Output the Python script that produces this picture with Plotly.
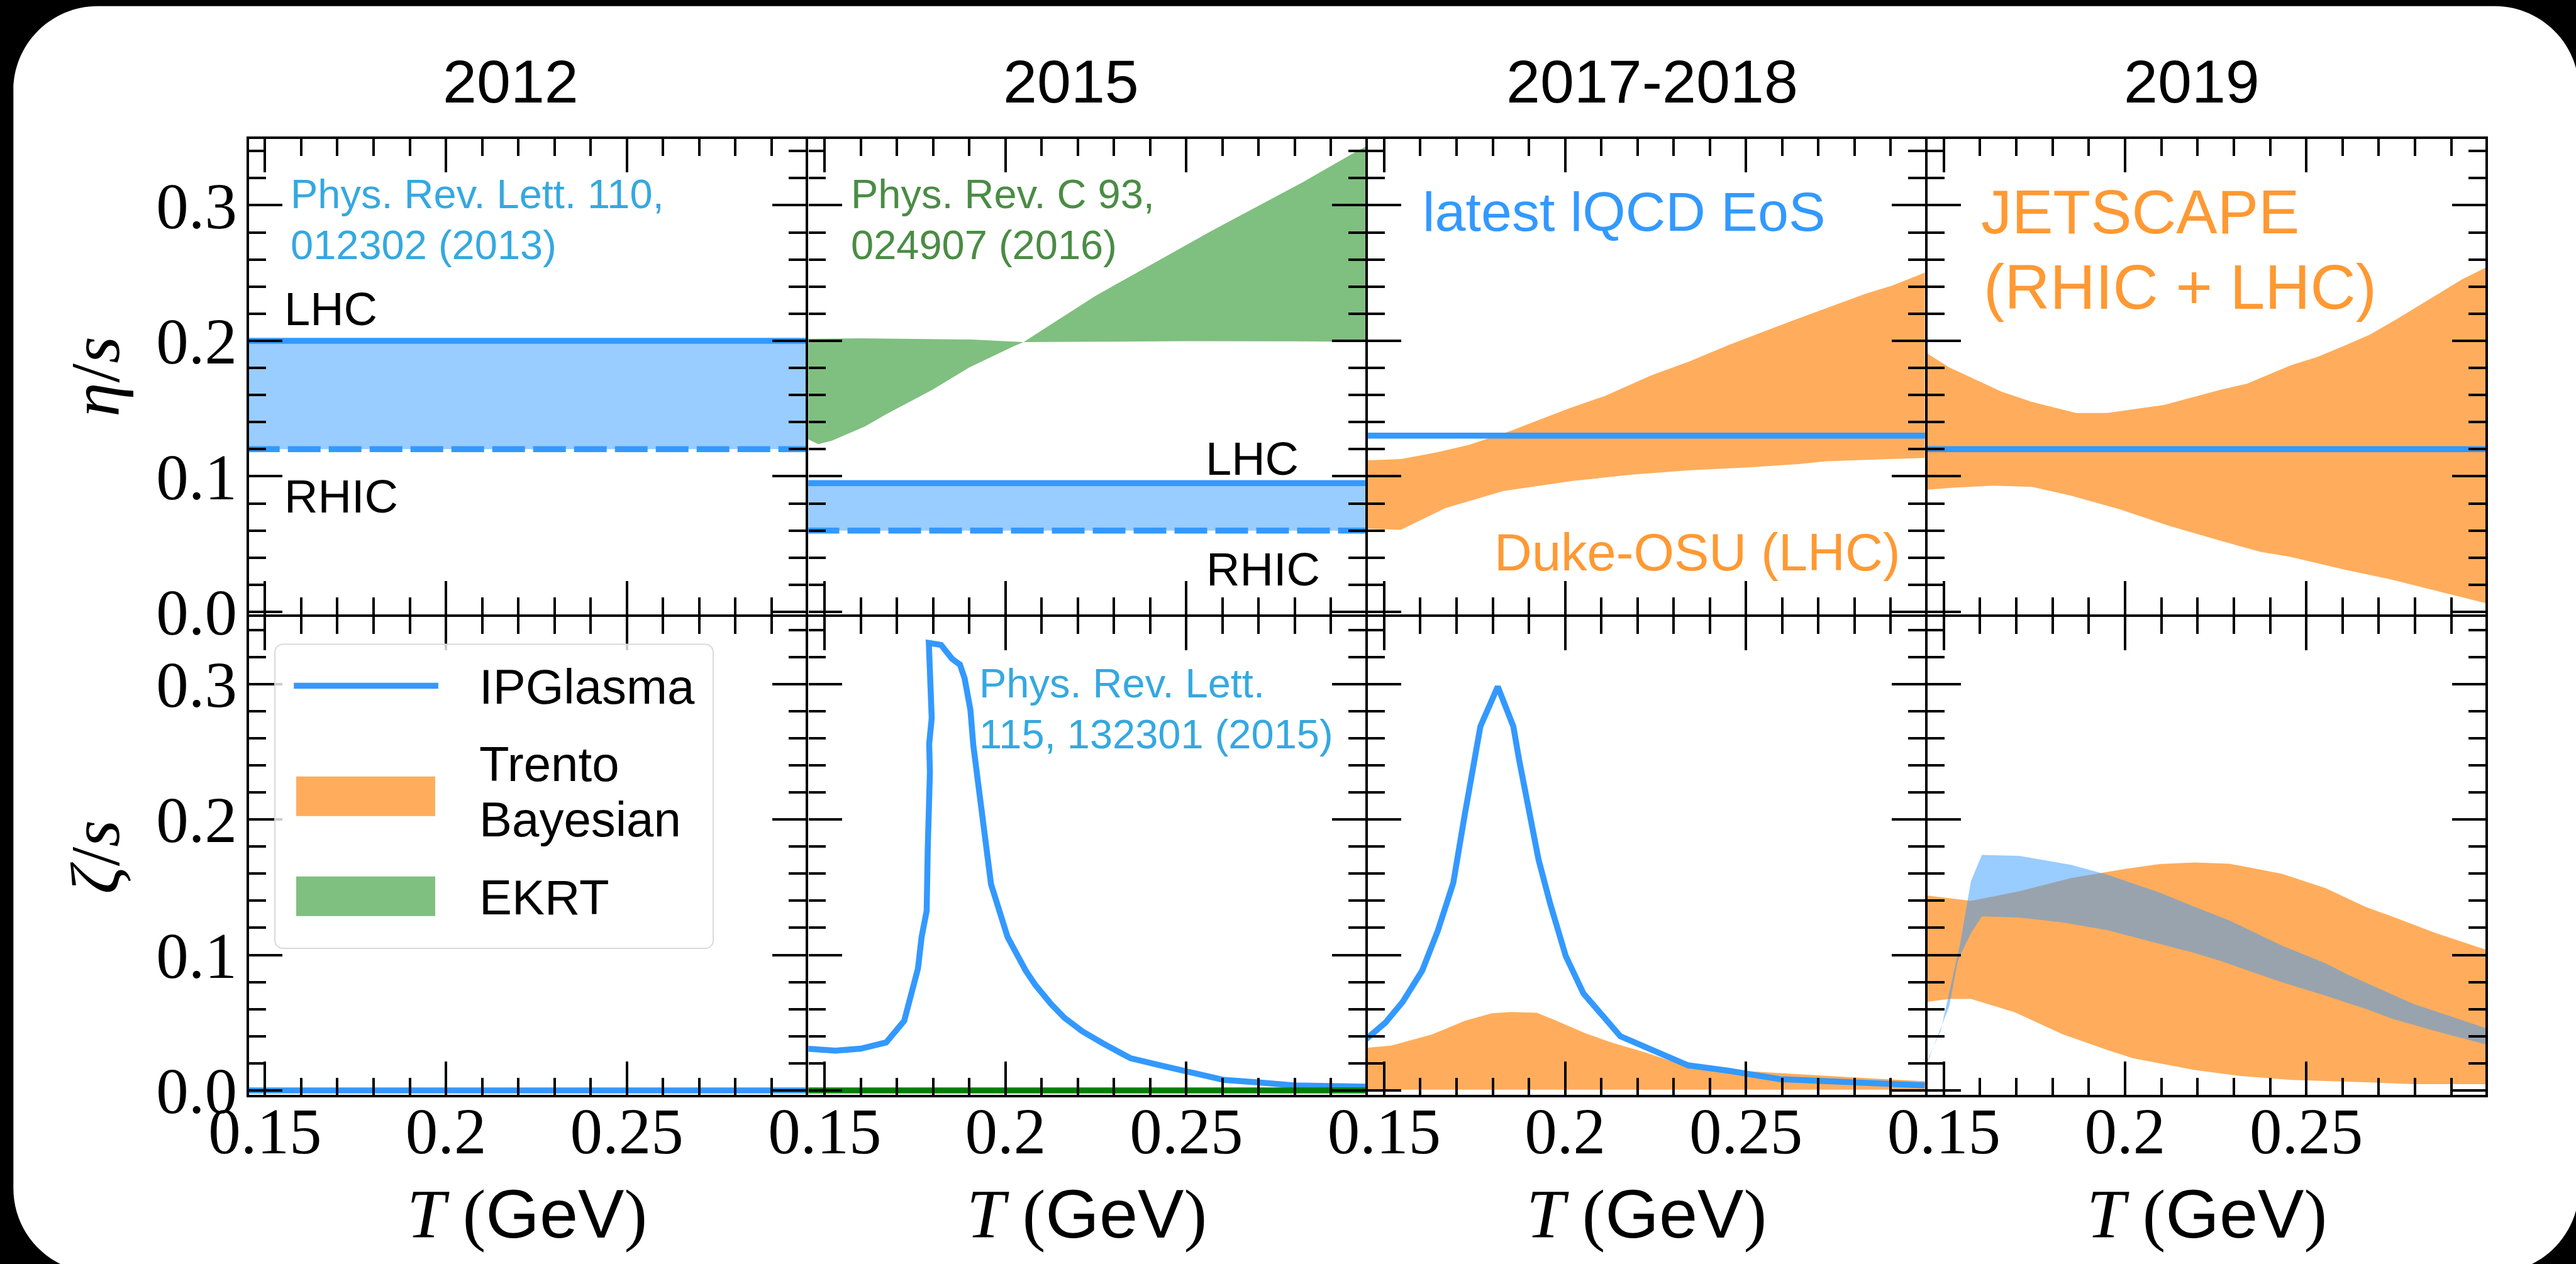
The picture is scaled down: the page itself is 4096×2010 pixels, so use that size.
import plotly.graph_objects as go

W, H = 4096, 2010

# ---------------------------------------------------------------- data
T_span = [0.145, 0.300]

# eta/s, 2012 (PRL 110, 012302)
eta_lhc_2012 = 0.20
eta_rhic_2012 = 0.12

# eta/s, 2015 (IP-Glasma + bulk)
eta_lhc_2015 = 0.095
eta_rhic_2015 = 0.06

# EKRT eta/s(T) band edges (PRC 93, 024907)
ekrt_T_flat = [0.1452, 0.1600, 0.1900, 0.1985, 0.2050, 0.2200, 0.2500, 0.2800, 0.2999]
ekrt_eta_flat = [0.2015, 0.2018, 0.2010, 0.2000, 0.1991, 0.1993, 0.1997, 0.1996, 0.1992]
ekrt_T_rise = [0.1452, 0.1482, 0.1519, 0.1611, 0.1670, 0.1798, 0.1900, 0.2024, 0.2050,
               0.2249, 0.2571, 0.2819, 0.2963, 0.2999]
ekrt_eta_rise = [0.1277, 0.1238, 0.1262, 0.1368, 0.1458, 0.1639, 0.1804, 0.1961, 0.1991,
                 0.2332, 0.2813, 0.3166, 0.3386, 0.3437]

# eta/s, 2017-2018
eta_lqcd_2017 = 0.13
duke_T_hi = [0.1449, 0.1546, 0.1637, 0.1734, 0.1852, 0.1895, 0.2013, 0.2110, 0.2238,
             0.2346, 0.2453, 0.2646, 0.2829, 0.2904, 0.2995]
duke_eta_hi = [0.1117, 0.1127, 0.1172, 0.1232, 0.1337, 0.1383, 0.1503, 0.1593, 0.1744,
               0.1850, 0.1970, 0.2166, 0.2346, 0.2407, 0.2503]
duke_T_lo = [0.1449, 0.1546, 0.1669, 0.1830, 0.2024, 0.2185, 0.2346, 0.2507, 0.2646,
             0.2722, 0.2995]
duke_eta_lo = [0.0614, 0.0605, 0.0765, 0.0892, 0.0967, 0.1012, 0.1045, 0.1066, 0.1090,
               0.1111, 0.1136]

# eta/s, 2019 (JETSCAPE)
eta_2019 = 0.12
jet_T_hi = [0.1452, 0.1515, 0.1587, 0.1660, 0.1744, 0.1865, 0.1950, 0.2107, 0.2264,
            0.2337, 0.2458, 0.2530, 0.2603, 0.2675, 0.2748, 0.2845, 0.2929, 0.2996]
jet_eta_hi = [0.1910, 0.1804, 0.1714, 0.1624, 0.1548, 0.1467, 0.1467, 0.1527, 0.1639,
              0.1684, 0.1820, 0.1880, 0.1961, 0.2045, 0.2157, 0.2317, 0.2452, 0.2542]
jet_T_lo = [0.1452, 0.1527, 0.1636, 0.1744, 0.1853, 0.1986, 0.2119, 0.2252, 0.2373,
            0.2458, 0.2603, 0.2736, 0.2869, 0.2996]
jet_eta_lo = [0.0901, 0.0916, 0.0931, 0.0922, 0.0856, 0.0756, 0.0636, 0.0533, 0.0443,
              0.0404, 0.0313, 0.0238, 0.0148, 0.0063]

# zeta/s, 2012
zeta_2012 = 0.0

# zeta/s, 2015: IP-Glasma (PRL 115, 132301) and EKRT
ipg15_T = [0.1452, 0.1530, 0.1600, 0.1670, 0.1720, 0.1745, 0.1758, 0.1768, 0.1782,
           0.1785, 0.1790, 0.1791, 0.1789, 0.1796, 0.1788, 0.1822, 0.1852, 0.1874,
           0.1887, 0.1892, 0.1903, 0.1911, 0.1919, 0.1933, 0.1960, 0.2006, 0.2056,
           0.2083, 0.2126, 0.2163, 0.2212, 0.2271, 0.2346, 0.2432, 0.2496, 0.2604,
           0.2700, 0.2797, 0.2996]
ipg15_zeta = [0.0308, 0.0293, 0.0308, 0.0354, 0.0514, 0.0746, 0.0900, 0.1131, 0.1325,
              0.1778, 0.2071, 0.2349, 0.2558, 0.2749, 0.3304, 0.3289, 0.3187, 0.3144,
              0.3042, 0.2950, 0.2811, 0.2549, 0.2379, 0.2040, 0.1523, 0.1131, 0.0884,
              0.0777, 0.0638, 0.0536, 0.0437, 0.0345, 0.0237, 0.0182, 0.0145, 0.0077,
              0.0059, 0.0037, 0.0027]
zeta_ekrt = 0.0

# zeta/s, 2017-2018: IP-Glasma curve and Trento Bayesian band
ipg17_T = [0.1449, 0.1503, 0.1551, 0.1605, 0.1648, 0.1691, 0.1723, 0.1766, 0.1814,
           0.1857, 0.1873, 0.1906, 0.1927, 0.1959, 0.2002, 0.2051, 0.2153, 0.2340,
           0.2453, 0.2593, 0.2722, 0.2829, 0.2995]
ipg17_zeta = [0.0376, 0.0499, 0.0653, 0.0884, 0.1177, 0.1532, 0.2040, 0.2688, 0.2981,
              0.2688, 0.2441, 0.2009, 0.1701, 0.1378, 0.0992, 0.0715, 0.0400, 0.0185,
              0.0145, 0.0083, 0.0068, 0.0052, 0.0037]
tr17_T_hi = [0.1449, 0.1519, 0.1632, 0.1723, 0.1798, 0.1852, 0.1922, 0.1970, 0.2056,
             0.2131, 0.2217, 0.2271, 0.2346, 0.2453, 0.2593, 0.2722, 0.2883, 0.2995]
tr17_zeta_hi = [0.0314, 0.0330, 0.0413, 0.0514, 0.0570, 0.0579, 0.0573, 0.0521, 0.0422,
                0.0351, 0.0284, 0.0237, 0.0167, 0.0151, 0.0129, 0.0108, 0.0083, 0.0068]
tr17_T_lo = [0.1449, 0.2995]
tr17_zeta_lo = [0.0005, 0.0005]

# zeta/s, 2019: Trento Bayesian band and JETSCAPE band
tr19_T_hi = [0.1452, 0.1575, 0.1708, 0.1853, 0.1998, 0.2095, 0.2192, 0.2288, 0.2433,
             0.2554, 0.2663, 0.2736, 0.2857, 0.2996]
tr19_zeta_hi = [0.1439, 0.1399, 0.1470, 0.1569, 0.1634, 0.1671, 0.1683, 0.1674, 0.1599,
                0.1492, 0.1356, 0.1285, 0.1162, 0.1039]
tr19_T_lo = [0.1452, 0.1515, 0.1575, 0.1696, 0.1829, 0.1950, 0.2023, 0.2192, 0.2313,
             0.2458, 0.2675, 0.2796, 0.2996]
tr19_zeta_lo = [0.0653, 0.0675, 0.0675, 0.0576, 0.0413, 0.0299, 0.0237, 0.0151, 0.0108,
                0.0077, 0.0059, 0.0046, 0.0046]
js19_T_hi = [0.1452, 0.1491, 0.1527, 0.1545, 0.1575, 0.1605, 0.1708, 0.1853, 0.1950,
             0.2095, 0.2192, 0.2288, 0.2433, 0.2554, 0.2615, 0.2796, 0.2996]
js19_zeta_hi = [0.021, 0.0437, 0.0869, 0.1085, 0.1547, 0.1738, 0.1732, 0.1664, 0.1594,
                0.1461, 0.1356, 0.1254, 0.1069, 0.0937, 0.0854, 0.0638, 0.0459]
js19_T_lo = [0.1452, 0.1515, 0.1539, 0.1575, 0.1605, 0.1708, 0.1829, 0.1950, 0.2071,
             0.2192, 0.2264, 0.2433, 0.2554, 0.2675, 0.2736, 0.2857, 0.2996]
js19_zeta_lo = [0.019, 0.0622, 0.0962, 0.1162, 0.1285, 0.1276, 0.1239, 0.1184, 0.1100,
                0.1014, 0.0955, 0.0798, 0.0699, 0.0592, 0.0530, 0.0437, 0.0339]

years = ["2012", "2015", "2017-2018", "2019"]

# ---------------------------------------------------------------- style
BLUE = "#3399ff"
BLUE_FILL = "rgba(51,153,255,0.5)"
ORANGE_FILL = "rgba(255,153,51,0.8)"
GREEN_FILL = "rgba(0,128,0,0.5)"
GREEN = "#008000"
SKY_TXT = "#35a8e0"
GREEN_TXT = "#4a8c44"
ORANGE_TXT = "#ff9933"
SANS = "Liberation Sans"
SERIF = "Liberation Serif"
LW = 9.5        # curve width
AX_LW = 4.2     # frame width

# panel frame positions (px, origin top-left)
XB = [393.5, 1283.3, 2173.0, 3062.8, 3954.5]
YB = [219.0, 978.9, 1742.7]
X_RANGE = [0.1455, 0.2995]
Y_RANGES = [[-0.0018, 0.3489], [-0.0031, 0.3496]]


def px(x, y):
    return x / W, 1 - y / H


fig = go.Figure()

for r in range(2):
    for c in range(4):
        i = r * 4 + c + 1
        sfx = "" if i == 1 else str(i)
        common = dict(showline=True, linecolor="black", linewidth=AX_LW, mirror="allticks",
                      ticks="inside", tickcolor="black", tickwidth=AX_LW, ticklen=53,
                      showgrid=False, zeroline=False, automargin=False,
                      tickfont=dict(family=SERIF, size=103, color="black"))
        fig.layout["xaxis" + sfx] = dict(
            common,
            domain=[(XB[c] + AX_LW / 2) / W, (XB[c + 1] - AX_LW / 2) / W],
            anchor="y" + sfx, range=X_RANGE,
            tickmode="linear", tick0=0.15, dtick=0.05,
            showticklabels=(r == 1), ticklabelstandoff=-34,
            minor=dict(ticks="inside", ticklen=27, tickwidth=AX_LW, tickcolor="black",
                       tick0=0.15, dtick=0.01),
        )
        fig.layout["yaxis" + sfx] = dict(
            common,
            domain=[1 - (YB[r + 1] - AX_LW / 2) / H, 1 - (YB[r] + AX_LW / 2) / H],
            anchor="x" + sfx, range=Y_RANGES[r],
            tickmode="linear", tick0=0, dtick=0.1, tickformat=".1f",
            showticklabels=(c == 0), ticklabelstandoff=-6,
            minor=dict(ticks="inside", ticklen=27, tickwidth=AX_LW, tickcolor="black",
                       tick0=0, dtick=0.02),
        )


def ax(i):
    s = "" if i == 1 else str(i)
    return dict(xaxis="x" + s, yaxis="y" + s)


def band(i, Tu, yu, Tl, yl, color):
    fig.add_trace(go.Scatter(x=list(Tu) + list(Tl)[::-1], y=list(yu) + list(yl)[::-1],
                             mode="lines", fill="toself", fillcolor=color,
                             line=dict(width=0), hoverinfo="skip", showlegend=False, **ax(i)))


def line(i, T, y, color=BLUE, dash="solid", width=LW):
    fig.add_trace(go.Scatter(x=T, y=y, mode="lines",
                             line=dict(color=color, width=width, dash=dash),
                             hoverinfo="skip", showlegend=False, **ax(i)))


DASH = "52px,13px"

# 2012 eta/s
band(1, T_span, [eta_lhc_2012] * 2, T_span, [eta_rhic_2012] * 2, BLUE_FILL)
line(1, T_span, [eta_lhc_2012] * 2)
line(1, T_span, [eta_rhic_2012] * 2, dash=DASH)

# 2015 eta/s
band(2, ekrt_T_flat, ekrt_eta_flat, ekrt_T_rise, ekrt_eta_rise, GREEN_FILL)
band(2, T_span, [eta_lhc_2015] * 2, T_span, [eta_rhic_2015] * 2, BLUE_FILL)
line(2, T_span, [eta_lhc_2015] * 2)
line(2, T_span, [eta_rhic_2015] * 2, dash=DASH)

# 2017-2018 eta/s
band(3, duke_T_hi, duke_eta_hi, duke_T_lo, duke_eta_lo, ORANGE_FILL)
line(3, T_span, [eta_lqcd_2017] * 2)

# 2019 eta/s
band(4, jet_T_hi, jet_eta_hi, jet_T_lo, jet_eta_lo, ORANGE_FILL)
line(4, T_span, [eta_2019] * 2)

# 2012 zeta/s
line(5, T_span, [zeta_2012] * 2)

# 2015 zeta/s
line(6, ipg15_T, ipg15_zeta)
line(6, T_span, [zeta_ekrt] * 2, color=GREEN)

# 2017-2018 zeta/s
band(7, tr17_T_hi, tr17_zeta_hi, tr17_T_lo, tr17_zeta_lo, ORANGE_FILL)
line(7, ipg17_T, ipg17_zeta)

# 2019 zeta/s
band(8, tr19_T_hi, tr19_zeta_hi, tr19_T_lo, tr19_zeta_lo, ORANGE_FILL)
band(8, js19_T_hi, js19_zeta_hi, js19_T_lo, js19_zeta_lo, BLUE_FILL)


# ---------------------------------------------------------------- decorations
def rounded_path(x0, y0, x1, y1, rad):
    k = 0.5523 * rad
    pts = [("M", [(x0 + rad, y0)]), ("L", [(x1 - rad, y0)]),
           ("C", [(x1 - rad + k, y0), (x1, y0 + rad - k), (x1, y0 + rad)]),
           ("L", [(x1, y1 - rad)]),
           ("C", [(x1, y1 - rad + k), (x1 - rad + k, y1), (x1 - rad, y1)]),
           ("L", [(x0 + rad, y1)]),
           ("C", [(x0 + rad - k, y1), (x0, y1 - rad + k), (x0, y1 - rad)]),
           ("L", [(x0, y0 + rad)]),
           ("C", [(x0, y0 + rad - k), (x0 + rad - k, y0), (x0 + rad, y0)])]
    out = []
    for cmd, p in pts:
        out.append(cmd + " ".join("%.6f,%.6f" % px(a, b) for a, b in p))
    return " ".join(out) + " Z"


def outer_ring(pad):
    # rectangle wound opposite to rounded_path, so the card becomes a hole
    corners = [(-pad, -pad), (-pad, H + pad), (W + pad, H + pad), (W + pad, -pad)]
    segs = ["M%.6f,%.6f" % px(*corners[0])]
    segs += ["L%.6f,%.6f" % px(*p) for p in corners[1:]]
    return " ".join(segs) + " Z"


shapes = [
    # dark surround of the slide card
    dict(type="path", xref="paper", yref="paper", layer="below",
         path=outer_ring(20) + " " + rounded_path(21.3, 9.7, 4100.7, 2023.8, 134),
         fillcolor="black", line=dict(width=0)),
    # legend frame
    dict(type="path", xref="paper", yref="paper",
         path=rounded_path(437.1, 1024.5, 1134.0, 1508.1, 12.6),
         fillcolor="rgba(255,255,255,0.8)", line=dict(color="#d9d9d9", width=2)),
]
lx0, ly0 = px(467.2, 1090.4)
lx1, _ = px(696.9, 1090.4)
shapes.append(dict(type="line", xref="paper", yref="paper", x0=lx0, x1=lx1, y0=ly0, y1=ly0,
                   line=dict(color=BLUE, width=LW)))
for (ya, yb_), col in [((1234.8, 1297.8), ORANGE_FILL), ((1393.8, 1456.8), GREEN_FILL)]:
    a0, b0 = px(471.0, ya)
    a1, b1 = px(692.0, yb_)
    shapes.append(dict(type="rect", xref="paper", yref="paper", x0=a0, x1=a1, y0=b1, y1=b0,
                       fillcolor=col, line=dict(width=0)))

annotations = []


def text(x, y, s, size, color="black", family=SANS, xanchor="left", angle=0):
    xp, yp = px(x, y)
    annotations.append(dict(x=xp, y=yp, xref="paper", yref="paper", text=s, showarrow=False,
                            xanchor=xanchor, yanchor="middle", textangle=angle,
                            font=dict(family=family, size=size, color=color)))


# column headings
for xc, lab in zip([812.2, 1703.0, 2626.6, 3485.4], years):
    text(xc, 129.4, lab, 97, xanchor="center")

# reference tags
text(460.0, 309.0, "Phys. Rev. Lett. 110,", 65, SKY_TXT)
text(460.0, 389.4, "012302 (2013)", 65, SKY_TXT)
text(1351.0, 309.0, "Phys. Rev. C 93,", 65, GREEN_TXT)
text(1351.0, 389.4, "024907 (2016)", 65, GREEN_TXT)
text(1554.5, 1086.5, "Phys. Rev. Lett.", 65, SKY_TXT)
text(1554.5, 1167.0, "115, 132301 (2015)", 65, SKY_TXT)

# collision system labels
text(450.0, 491.9, "LHC", 74)
text(450.0, 789.0, "RHIC", 74)
text(1915.0, 729.4, "LHC", 74)
text(1916.0, 905.3, "RHIC", 74)

text(2260.0, 336.3, "latest lQCD EoS", 88, BLUE)
text(2374.0, 878.1, "Duke-OSU (LHC)", 83, ORANGE_TXT)
text(3148.0, 336.8, "JETSCAPE", 98, ORANGE_TXT)
text(3152.0, 456.0, "(RHIC + LHC)", 100, ORANGE_TXT)

# legend entries
text(760.0, 1092.3, "IPGlasma", 78)
text(760.0, 1215.0, "Trento", 78)
text(760.0, 1302.7, "Bayesian", 78)
text(760.0, 1427.2, "EKRT", 78)

# axis titles
text(152.0, 599.0, "<i>η</i>/<i>s</i>", 110, family=SERIF, xanchor="center", angle=-90)
text(152.0, 1362.8, "<i>ζ</i>/<i>s</i>", 110, family=SERIF, xanchor="center", angle=-90)
for c in range(4):
    xc = (XB[c] + XB[c + 1]) / 2
    text(xc, 1930.0, "<i>T</i> (<span style=\"font-family:Liberation Sans\">GeV</span>)",
         110, family=SERIF, xanchor="center")

fig.update_layout(width=W, height=H, margin=dict(l=0, r=0, t=0, b=0, pad=0, autoexpand=False),
                  paper_bgcolor="white", plot_bgcolor="white",
                  shapes=shapes, annotations=annotations, showlegend=False)

fig.write_html("out.html")
